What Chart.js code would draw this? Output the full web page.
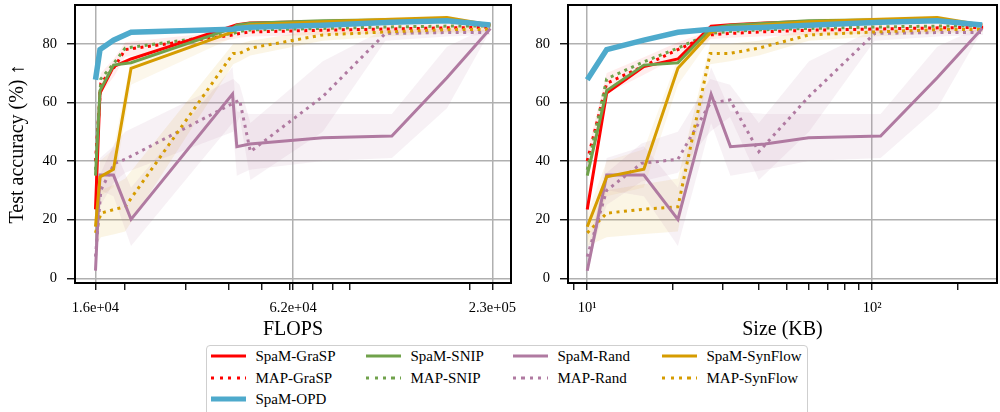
<!DOCTYPE html>
<html>
<head>
<meta charset="utf-8">
<script src="https://cdn.jsdelivr.net/npm/chart.js@4.4.1/dist/chart.umd.min.js"></script>
<style>
  html, body { margin: 0; padding: 0; background: #fff; }
  body { width: 1000px; height: 412px; overflow: hidden; position: relative; font-family: "Liberation Serif", serif; }
  .panel { position: absolute; top: 0; height: 345px; }
  #legend { position: absolute; left: 206px; top: 345px; width: 602px; height: 80px;
            border: 1.5px solid #cfcfcf; border-radius: 4px; box-sizing: border-box; background: #fff; }
  .item { position: absolute; height: 20px; }
  .sample { position: absolute; left: 0; width: 35px; top: 50%; transform: translateY(-50%); }
  .txt { position: absolute; left: 45px; top: 50%; transform: translateY(-50%); font-size: 15px; white-space: nowrap; color: #000; }
</style>
</head>
<body>
<div class="panel" style="left:0;width:520px"><canvas id="flopsChart"></canvas></div>
<div class="panel" style="left:520px;width:480px"><canvas id="sizeChart"></canvas></div>
<div id="legend"></div>
<script>
// ---- data ----
const spamFlops = [16400, 16900, 18500, 20800, 41000, 42200, 46000, 75000, 119000, 172000, 230000];
const mapFlops  = [16400, 17000, 18600, 20000, 41200, 43000, 46200, 75000, 114000, 172000, 230000];
const spamSize  = [10, 11.7, 15.8, 20.8, 27.2, 31.8, 42, 59.8, 107, 169, 243];
const mapSize   = [10, 11.7, 15.5, 20.8, 27, 31.7, 40, 60, 102, 170, 245];

const spamGraspAcc = [23.5, 63.2, 72.2, 74.8, 86.0, 86.5, 87.1, 87.6, 88.0, 88.0, 86.4];
const spamSnipAcc  = [35.0, 64.0, 72.7, 73.5, 85.3, 86.3, 87.0, 87.8, 88.2, 88.3, 86.4];
const spamRandAcc  = [2.6, 35.2, 35.2, 20.1, 62.8, 44.9, 45.8, 47.9, 48.5, 68.4, 85.2];
const spamSynAcc   = [17.6, 34.6, 37.2, 71.6, 84.0, 85.5, 86.5, 87.5, 88.3, 88.9, 86.4];
const spamOpdAcc   = [67.7, 78.0, 81.2, 83.9, 84.9, 85.2, 85.6, 86.3, 87.3, 87.8, 86.4];
const mapGraspAcc  = [40.0, 66.5, 72.0, 78.0, 83.0, 83.5, 84.0, 84.6, 85.0, 85.4, 85.6];
const mapSnipAcc   = [37.0, 68.0, 73.5, 78.5, 83.5, 84.2, 84.7, 85.2, 85.7, 86.0, 86.0];
const mapRandAcc   = [7.4, 30.0, 39.2, 40.6, 59.7, 60.8, 43.2, 62.0, 83.5, 83.8, 83.8];
const mapSynAcc    = [15.5, 22.2, 23.5, 24.4, 76.7, 76.7, 78.5, 83.0, 84.0, 84.8, 84.9];

// shaded spread (min / max) around some series
const spamRandLo = [1.5, 30, 28, 11, 53, 35, 37, 40, 41, 58, 84.5];
const spamRandHi = [4, 41, 45, 31, 72, 57, 56, 56, 56, 79, 86];
const mapRandLo  = [5, 25, 33, 36, 50, 55, 33.5, 50, 81, 82.5, 83];
const mapRandHi  = [10, 36, 46, 50, 68, 66, 53, 74, 85, 85, 84.6];
const spamSynLo  = [12, 28, 31, 66, 82, 84, 85.5, 86.5, 87.5, 88, 85.8];
const spamSynHi  = [22, 40, 44, 75, 85.5, 86.5, 87.5, 88.5, 89, 89.5, 87];
const mapSynLo   = [11, 14, 15, 16, 73, 74, 76, 81, 82.5, 83.5, 84];
const mapSynHi   = [20, 30, 32, 34, 80, 80, 81, 85, 85.5, 86, 86];
const mapGraspLo = [37, 63, 69, 75.5, 81.5, 82, 82.5, 83, 83.5, 84, 84.5];
const mapGraspHi = [43, 70, 75, 80.5, 84.5, 85, 85.5, 86, 86.5, 86.7, 86.7];

// axis ticks
const accTicks = [0, 20, 40, 60, 80];
const flopsTickVals = [16400, 61500, 233000];
const flopsTickLabels = ['1.6e+04', '6.2e+04', '2.3e+05'];
const flopsMinor = [20000, 30000, 40000, 50000, 60000, 70000, 80000, 90000, 200000];
const sizeTickVals = [10, 100];
const sizeTickLabels = ['10\u00b9', '10\u00b2'];
const sizeMinor = [9, 20, 30, 40, 50, 60, 70, 80, 90, 200];

// ---- styles ----
const RED = '#ff0000', GREEN = '#70a24b', PURPLE = '#b07aa1', GOLD = '#d69c00', BLUE = '#4eaacc';
const FONT = '"Liberation Serif", "Times New Roman", serif';

const lines = [
  { label: 'SpaM-OPD',     acc: spamOpdAcc,   map: false, color: BLUE,   dotted: false, width: 5.5, order: 1 },
  { label: 'SpaM-GraSP',   acc: spamGraspAcc, map: false, color: RED,    dotted: false, width: 3, order: 5 },
  { label: 'SpaM-SNIP',    acc: spamSnipAcc,  map: false, color: GREEN,  dotted: false, width: 3, order: 4 },
  { label: 'SpaM-Rand',    acc: spamRandAcc,  map: false, color: PURPLE, dotted: false, width: 3, order: 3 },
  { label: 'SpaM-SynFlow', acc: spamSynAcc,   map: false, color: GOLD,   dotted: false, width: 3, order: 2 },
  { label: 'MAP-GraSP',    acc: mapGraspAcc,  map: true,  color: RED,    dotted: true,  width: 3, order: 8 },
  { label: 'MAP-SNIP',     acc: mapSnipAcc,   map: true,  color: GREEN,  dotted: true,  width: 3, order: 7 },
  { label: 'MAP-Rand',     acc: mapRandAcc,   map: true,  color: PURPLE, dotted: true,  width: 3, order: 9 },
  { label: 'MAP-SynFlow',  acc: mapSynAcc,    map: true,  color: GOLD,   dotted: true,  width: 3, order: 6 }
];
const bands = [
  { lo: spamRandLo, hi: spamRandHi, map: false, color: 'rgba(176,122,161,0.10)' },
  { lo: mapRandLo,  hi: mapRandHi,  map: true,  color: 'rgba(176,122,161,0.10)' },
  { lo: spamSynLo,  hi: spamSynHi,  map: false, color: 'rgba(214,156,0,0.08)' },
  { lo: mapSynLo,   hi: mapSynHi,   map: true,  color: 'rgba(214,156,0,0.10)' },
  { lo: mapGraspLo, hi: mapGraspHi, map: true,  color: 'rgba(255,0,0,0.07)' }
];

const pts = (xs, ys) => xs.map((x, i) => ({ x: x, y: ys[i] }));

function buildDatasets(spamX, mapX) {
  const ds = [];
  bands.forEach(b => {
    const xs = b.map ? mapX : spamX;
    ds.push({ data: pts(xs, b.lo), borderWidth: 0, pointRadius: 0, fill: false, order: 50 });
    ds.push({ data: pts(xs, b.hi), borderWidth: 0, pointRadius: 0, fill: '-1', backgroundColor: b.color, order: 50 });
  });
  lines.forEach(s => {
    ds.push({
      label: s.label,
      data: pts(s.map ? mapX : spamX, s.acc),
      borderColor: s.color,
      borderWidth: s.width,
      borderDash: s.dotted ? [3, 4.5] : [],
      borderCapStyle: 'butt',
      borderJoinStyle: 'miter',
      pointRadius: 0,
      tension: 0,
      fill: false,
      order: s.order
    });
  });
  return ds;
}

// black box around the axes, drawn over the lines
const framePlugin = {
  id: 'frame',
  afterDatasetsDraw(chart) {
    const a = chart.chartArea, ctx = chart.ctx;
    ctx.save();
    ctx.strokeStyle = '#000';
    ctx.lineWidth = 2;
    ctx.strokeRect(a.left, a.top, a.right - a.left, a.bottom - a.top);
    ctx.restore();
  }
};

function makeChart(id, cfg) {
  const isMajor = v => cfg.tickVals.indexOf(v) >= 0;
  return new Chart(document.getElementById(id), {
    type: 'line',
    data: { datasets: buildDatasets(cfg.spamX, cfg.mapX) },
    plugins: [framePlugin],
    options: {
      responsive: true,
      maintainAspectRatio: false,
      animation: false,
      devicePixelRatio: 1,
      layout: { padding: { top: 5, right: cfg.padRight, left: 0, bottom: 0 } },
      plugins: { legend: { display: false }, tooltip: { enabled: false } },
      scales: {
        x: {
          type: 'logarithmic',
          min: cfg.xMin, max: cfg.xMax,
          afterBuildTicks: s => { s.ticks = cfg.tickVals.concat(cfg.minor).map(v => ({ value: v })); },
          afterFit: s => { s.height = 62; s.paddingLeft = 0; s.paddingRight = 0; },
          ticks: {
            autoSkip: false, maxRotation: 0, padding: 9, color: '#000',
            font: { family: FONT, size: 14.5 },
            callback: v => { const i = cfg.tickVals.indexOf(v); return i >= 0 ? cfg.tickLabels[i] : ''; }
          },
          grid: {
            color: c => (c.tick && isMajor(c.tick.value)) ? '#b0b0b0' : 'rgba(0,0,0,0)',
            lineWidth: 1.5, tickColor: '#000', tickLength: 7, tickWidth: 1.3
          },
          border: { display: true, color: '#000', width: 2 },
          title: { display: true, text: cfg.xTitle, color: '#000', font: { family: FONT, size: 20 }, padding: { top: 0, bottom: 3 } }
        },
        y: {
          type: 'linear',
          min: -1.6, max: 93.2,
          afterBuildTicks: s => { s.ticks = accTicks.map(v => ({ value: v })); },
          afterFit: s => { s.width = cfg.yWidth; s.paddingTop = 0; s.paddingBottom = 0; },
          ticks: { padding: 10, color: '#000', font: { family: FONT, size: 14.5 } },
          grid: { color: '#b0b0b0', lineWidth: 1.5, tickColor: '#000', tickLength: 8, tickWidth: 1.3 },
          border: { display: true, color: '#000', width: 2 },
          title: cfg.yTitle
            ? { display: true, text: cfg.yTitle, color: '#000', font: { family: FONT, size: 20 }, padding: { top: 6, bottom: 0 } }
            : { display: false }
        }
      }
    }
  });
}

makeChart('flopsChart', {
  spamX: spamFlops, mapX: mapFlops,
  xMin: 14300, xMax: 264000,
  tickVals: flopsTickVals, tickLabels: flopsTickLabels, minor: flopsMinor,
  xTitle: 'FLOPS', yTitle: 'Test accuracy (%) \u2191',
  yWidth: 75, padRight: 9
});
makeChart('sizeChart', {
  spamX: spamSize, mapX: mapSize,
  xMin: 8.56, xMax: 274,
  tickVals: sizeTickVals, tickLabels: sizeTickLabels, minor: sizeMinor,
  xTitle: 'Size (KB)', yTitle: null,
  yWidth: 48, padRight: 3
});

// ---- legend (matplotlib fills its 4 columns top to bottom) ----
const legendCols = [211, 366, 513, 662];
const legendRows = [356.7, 378.3, 399.3];
const legendOrder = [
  ['SpaM-GraSP', 'MAP-GraSP', 'SpaM-OPD'],
  ['SpaM-SNIP', 'MAP-SNIP'],
  ['SpaM-Rand', 'MAP-Rand'],
  ['SpaM-SynFlow', 'MAP-SynFlow']
];
const legendEl = document.getElementById('legend');
const box = { left: 206, top: 345 };
legendOrder.forEach((col, ci) => {
  col.forEach((name, ri) => {
    const s = lines.find(l => l.label === name);
    const item = document.createElement('div');
    item.className = 'item';
    item.style.left = (legendCols[ci] - box.left - 1.5) + 'px';
    item.style.top = (legendRows[ri] - box.top - 1.5 - 10) + 'px';
    item.style.width = '150px';
    const sample = document.createElement('div');
    sample.className = 'sample';
    sample.style.height = (s.width >= 5 ? 5 : 3) + 'px';
    sample.style.background = s.dotted
      ? 'repeating-linear-gradient(to right, ' + s.color + ' 0 3px, transparent 3px 8.5px)'
      : s.color;
    const txt = document.createElement('div');
    txt.className = 'txt';
    txt.textContent = name;
    item.appendChild(sample);
    item.appendChild(txt);
    legendEl.appendChild(item);
  });
});
</script>
</body>
</html>
